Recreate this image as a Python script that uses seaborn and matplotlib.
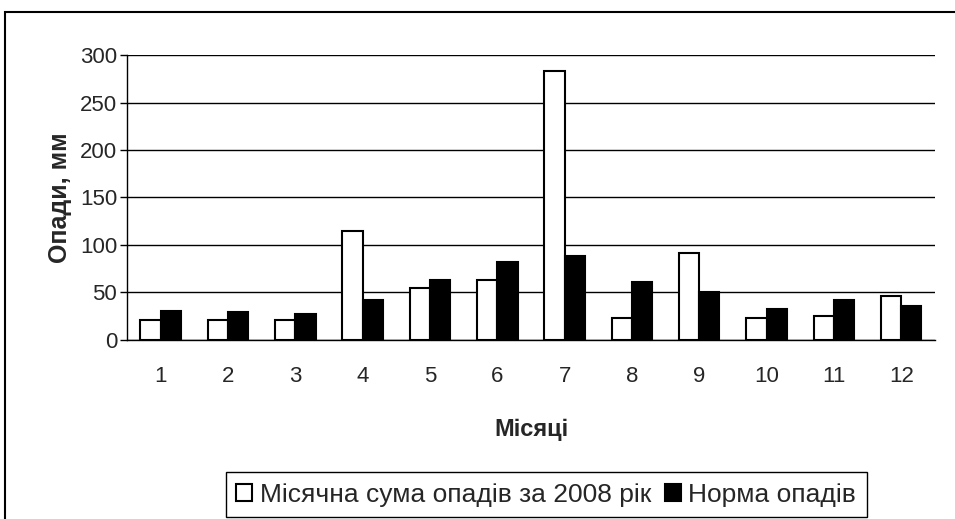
import matplotlib
matplotlib.use("Agg")
import matplotlib.pyplot as plt
import seaborn as sns
import pandas as pd
from matplotlib.patches import Rectangle

# monthly precipitation, mm
months = [str(i) for i in range(1, 13)]
sum_2008 = [21, 21, 21, 115, 55, 63, 283, 23, 92, 23, 25, 46]
norm = [31, 29, 27, 42, 63, 82, 88, 61, 50, 33, 42, 36]
labels = ["Місячна сума опадів за 2008 рік", "Норма опадів"]
y_ticks = [0, 50, 100, 150, 200, 250, 300]

df = pd.DataFrame({
    "month": months * 2,
    "value": sum_2008 + norm,
    "series": [labels[0]] * 12 + [labels[1]] * 12,
})

sns.set_style("white")
plt.rcParams["font.family"] = ["Liberation Sans", "DejaVu Sans"]

fig = plt.figure(figsize=(9.55, 5.19), dpi=100)
ax = fig.add_axes([0.133, 0.345, 0.846, 0.549])

sns.barplot(data=df, x="month", y="value", hue="series", order=months,
            palette={labels[0]: "white", labels[1]: "black"},
            edgecolor="black", linewidth=1.5, width=0.6, ax=ax)

ax.set_ylim(0, 300)
ax.set_yticks(y_ticks)
ax.set_xlim(-0.5, 11.5)
ax.yaxis.grid(True, color="black", linewidth=1)
ax.set_axisbelow(True)
for s in ["top", "right"]:
    ax.spines[s].set_visible(False)
for s in ["left", "bottom"]:
    ax.spines[s].set_color("black")
    ax.spines[s].set_linewidth(1)

# ticks between categories on x
ax.set_xticks(range(12))
ax.set_xticklabels(months)
ax.tick_params(axis="x", length=0, labelsize=16, pad=19)
ax.set_xticks([i - 0.5 for i in range(13)], minor=True)
ax.tick_params(axis="x", which="minor", length=6, width=1, color="black", direction="out")
ax.tick_params(axis="y", length=5, width=1, color="black", direction="out", labelsize=16, left=True, pad=2)

ax.set_xlabel("Місяці", fontsize=17, fontweight="bold", labelpad=22)
ax.set_ylabel("Опади, мм", fontsize=18, fontweight="bold", labelpad=6)

ax.legend(loc="lower center", bbox_to_anchor=(0.519, -0.622), ncol=2,
          fontsize=19, frameon=True, fancybox=False, edgecolor="black",
          handlelength=0.6, handleheight=0.6, handletextpad=0.3,
          columnspacing=0.5, borderpad=0.4, borderaxespad=0, framealpha=1)
ax.get_legend().get_frame().set_linewidth(1)

fig.patches.append(Rectangle((5 / 955, -0.01), 1.0, 1 - 12 / 519 + 0.01,
                             transform=fig.transFigure, fill=False,
                             edgecolor="black", linewidth=1.5))

fig.savefig("out.png", dpi=100)
